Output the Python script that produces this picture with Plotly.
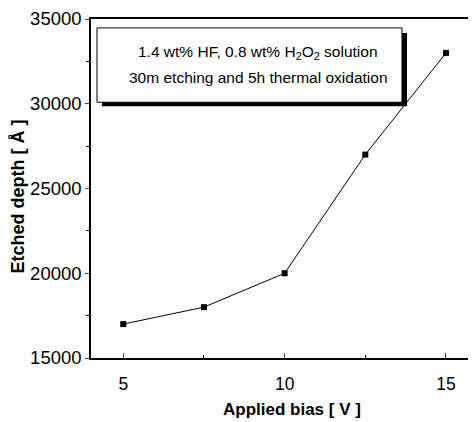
import plotly.graph_objects as go

bias_v = [5, 7.5, 10, 12.5, 15]
depth_a = [17000, 18000, 20000, 27000, 33000]
x_ticks = [5, 10, 15]
y_ticks = [15000, 20000, 25000, 30000, 35000]
legend_lines = ["1.4 wt% HF, 0.8 wt% H<sub>2</sub>O<sub>2</sub> solution",
                "30m etching and 5h thermal oxidation"]
x_title = "<b>Applied bias [ V ]</b>"
y_title = "<b>Etched depth [ Å ]</b>"

# page has an 8px body margin; work in page pixel coordinates
OFF = 8
W, H = 476 - OFF, 422 - OFF
L, R, T, B = 91 - OFF, 0, 16 - OFF, 64
pw, ph = W - L - R, H - T - B

def px(x):
    return (x - OFF - L) / pw

def py(y):
    return (H - B - (y - OFF)) / ph

fig = go.Figure()
fig.add_trace(go.Scatter(
    x=bias_v, y=depth_a, mode="lines+markers",
    line=dict(color="black", width=1),
    marker=dict(symbol="square", size=6, color="black"),
    showlegend=False, cliponaxis=False,
))

font = "Liberation Sans, Arial, sans-serif"
fig.update_layout(
    width=W, height=H,
    margin=dict(l=L, r=R, t=T, b=B),
    paper_bgcolor="white", plot_bgcolor="white",
    font=dict(family=font, color="black", size=16),
    xaxis=dict(
        range=[4.0, 15.93], tickvals=x_ticks, ticks="inside", ticklen=5,
        showgrid=False, zeroline=False, showline=True, linecolor="black",
        linewidth=1.5, mirror=True, ticklabelstandoff=9, ticklabeloverflow="allow",
        minor=dict(tickvals=[7.5, 12.5], ticks="inside", ticklen=3, tickcolor="black"),
        tickfont=dict(size=17.5),
    ),
    yaxis=dict(
        range=[15000, 35000], tickvals=y_ticks, tickformat="d", ticks="outside", ticklen=4,
        showgrid=False, zeroline=False, showline=True, linecolor="black",
        linewidth=1.5, ticklabeloverflow="allow",
        minor=dict(tickvals=[17500, 22500, 27500, 32500], ticks="outside", ticklen=3, tickcolor="black"),
        tickfont=dict(size=18.5),
    ),
)

fig.add_annotation(xref="paper", yref="paper", x=px(292), y=py(410), text=x_title,
                   showarrow=False, font=dict(size=17, family=font),
                   xanchor="center", yanchor="middle")
fig.add_annotation(xref="paper", yref="paper", x=px(18), y=py(195), text=y_title,
                   showarrow=False, textangle=-90, font=dict(size=18, family=font),
                   xanchor="center", yanchor="middle")

# shadow box
fig.add_shape(type="rect", xref="paper", yref="paper",
              x0=px(102), x1=px(407), y0=py(104), y1=py(30),
              fillcolor="black", line=dict(width=0))
fig.add_shape(type="rect", xref="paper", yref="paper",
              x0=px(97), x1=px(402), y0=py(100), y1=py(25),
              fillcolor="white", line=dict(color="black", width=1))

for i, t in enumerate(legend_lines):
    fig.add_annotation(xref="paper", yref="paper", x=px(258), y=py(50 + 25 * i),
                       text=t, showarrow=False, font=dict(size=15.5, family=font),
                       xanchor="center", yanchor="middle")

fig.write_html("out.html")
